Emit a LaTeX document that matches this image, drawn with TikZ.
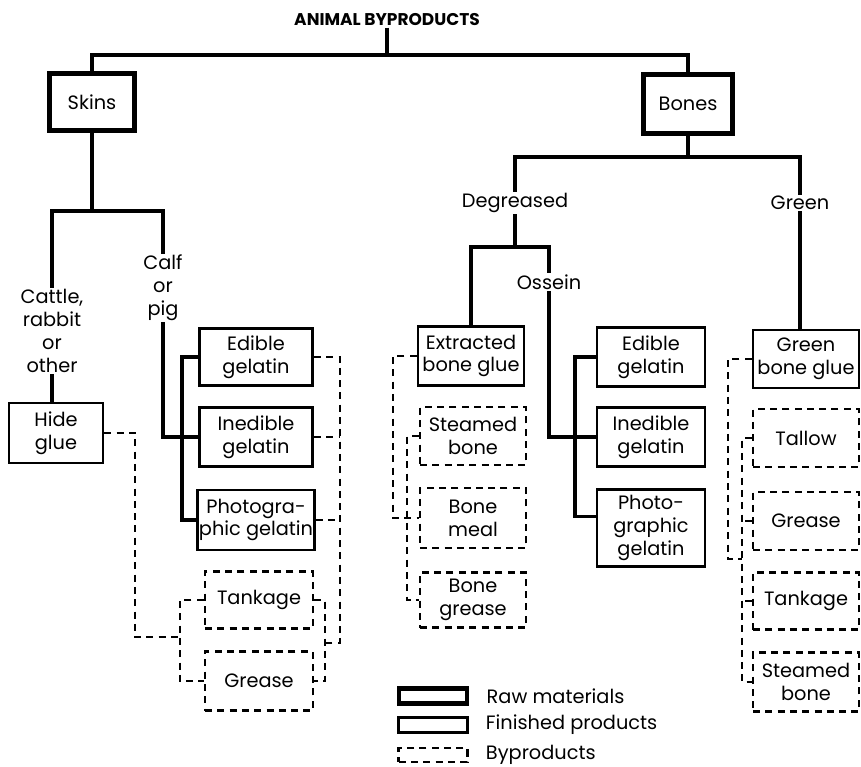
\documentclass[tikz,border=0pt]{standalone}
\usepackage{fontspec}
\setmainfont{Poppins}
\usetikzlibrary{positioning}

\begin{document}
\begin{tikzpicture}[
  x=0.03cm, y=-0.03cm,
  every node/.style={font=\fontsize{16.5}{19.5}\selectfont, align=center, inner sep=1pt},
  sz/.style 2 args={minimum width=#1, minimum height=#2},
  raw/.style={draw, line width=3.6pt},
  fin/.style={draw, line width=2.4pt},
  byp/.style={draw, line width=2.4pt, dash pattern=on 6pt off 4.5pt},
  conn/.style={line width=2.9pt},
  dconn/.style={line width=2.4pt, dash pattern=on 6pt off 4.5pt}
]
  \useasboundingbox (0,0) rectangle (861,767);

  % title and raw materials
  \node[font=\fontsize{14.5}{16}\selectfont\bfseries] (title) at (387,20) {ANIMAL BYPRODUCTS};
  \node[raw, sz={2.55cm}{1.71cm}] (skins) at (92,102) {Skins};
  \node[raw, sz={2.67cm}{1.77cm}] (bones) at (688,104) {Bones};

  % skins branch
  \node (cattle) at (52,331) {Cattle,\\rabbit\\or\\other};
  \node (calf)   at (163,288) {Calf\\or\\pig};
  \node[fin, sz={2.82cm}{1.8cm}]  (hide)   at (56,433)  {Hide\\glue};
  \node[fin, sz={3.39cm}{1.71cm}] (edib1)  at (256,357) {Edible\\gelatin};
  \node[fin, sz={3.39cm}{1.77cm}] (ined1)  at (256,437) {Inedible\\gelatin};
  \node[fin, sz={3.39cm}{1.8cm}]  (photo1) at (256,520) {Photogra-\\phic gelatin};
  \node[byp, sz={3.24cm}{1.71cm}] (tank1)  at (259,600) {Tankage};
  \node[byp, sz={3.24cm}{1.77cm}] (greas1) at (259,681) {Grease};

  % bones branch
  \node (degr)   at (515,203) {Degreased};
  \node (green)  at (800,203) {Green};
  \node (ossein) at (549,282) {Ossein};
  \node[fin, sz={3.18cm}{1.77cm}] (ebg)     at (471,356) {Extracted\\bone glue};
  \node[byp, sz={3.18cm}{1.74cm}] (steam1)  at (473,436) {Steamed\\bone};
  \node[byp, sz={3.18cm}{1.8cm}]  (meal)    at (473,518) {Bone\\meal};
  \node[byp, sz={3.18cm}{1.65cm}] (bgrease) at (473,600) {Bone\\grease};
  \node[fin, sz={3.24cm}{1.77cm}] (edib2)   at (651,357) {Edible\\gelatin};
  \node[fin, sz={3.24cm}{1.77cm}] (ined2)   at (651,437) {Inedible\\gelatin};
  \node[fin, sz={3.24cm}{2.31cm}] (photo2)  at (651,528) {Photo-\\graphic\\gelatin};
  \node[fin, sz={3.18cm}{1.74cm}] (gglue)   at (806,359) {Green\\bone glue};
  \node[byp, sz={3.18cm}{1.74cm}] (tallow)  at (806,438) {Tallow};
  \node[byp, sz={3.18cm}{1.74cm}] (ggrease) at (806,521) {Grease};
  \node[byp, sz={3.18cm}{1.71cm}] (gtank)   at (806,601) {Tankage};
  \node[byp, sz={3.18cm}{1.77cm}] (gsteam)  at (806,682) {Steamed\\bone};

  % legend
  \node[raw, sz={2.05cm}{0.45cm}] (lraw) at (433,696) {};
  \node[fin, sz={2.05cm}{0.45cm}] (lfin) at (433,725) {};
  \node[byp, sz={2.05cm}{0.42cm}] (lbyp) at (433,755) {};
  \node[right=0.48cm of lraw] (traw) {Raw materials};
  \node[right=0.48cm of lfin] (tfin) {Finished products};
  \node[right=0.48cm of lbyp] (tbyp) {Byproducts};

  % bar points
  \coordinate (topbar) at (387,55);
  \coordinate (skbar)  at (92,211);
  \coordinate (bbar)   at (688,157);
  \coordinate (dbar)   at (515,247);
  \coordinate (lgbus)  at (182,437);
  \coordinate (rgbus)  at (575,437);
  \coordinate (lgr)    at (340,643);
  \coordinate (tgbus)  at (325,643);
  \coordinate (hidec)  at (135,637);
  \coordinate (tglbus) at (180,637);
  \coordinate (ebo)    at (393,518);
  \coordinate (ebi)    at (407,518);
  \coordinate (ggo)    at (728,559);
  \coordinate (ggi)    at (742,559);

  % solid connectors
  \draw[conn] (title) -- (topbar);
  \draw[conn] (topbar) -| (skins);
  \draw[conn] (topbar) -| (bones);
  \draw[conn] (skins) -- (skbar);
  \draw[conn] (skbar) -| (cattle);
  \draw[conn] (skbar) -| (calf);
  \draw[conn] (cattle) -- (cattle |- hide.north);
  \draw[conn] (calf) |- (ined1);
  \draw[conn] (edib1) -| (lgbus) |- (photo1);
  \draw[conn] (bones) -- (bbar);
  \draw[conn] (bbar) -| (degr);
  \draw[conn] (bbar) -| (green);
  \draw[conn] (green) -- (green |- gglue.north);
  \draw[conn] (degr) -- (dbar);
  \draw[conn] (dbar) -| (ebg);
  \draw[conn] (dbar) -| (ossein);
  \draw[conn] (ossein) |- (ined2);
  \draw[conn] (edib2) -| (rgbus) |- (photo2.168);

  % byproduct connectors
  \draw[dconn] (edib1) -| (lgr) -- (tgbus);
  \draw[dconn] (ined1) -- (ined1 -| lgr);
  \draw[dconn] (photo1) -- (photo1 -| lgr);
  \draw[dconn] (tank1) -| (tgbus) |- (greas1);
  \draw[dconn] (hide) -| (hidec) -- (tglbus);
  \draw[dconn] (tank1) -| (tglbus) |- (greas1);
  \draw[dconn] (ebg) -| (ebo) -- (meal);
  \draw[dconn] (steam1) -| (ebi) |- (bgrease);
  \draw[dconn] (gglue) -| (ggo) -- (ggi);
  \draw[dconn] (tallow) -| (ggi) |- (gsteam);
  \draw[dconn] (ggrease) -- (ggrease -| ggi);
  \draw[dconn] (gtank) -- (gtank -| ggi);
\end{tikzpicture}
\end{document}
